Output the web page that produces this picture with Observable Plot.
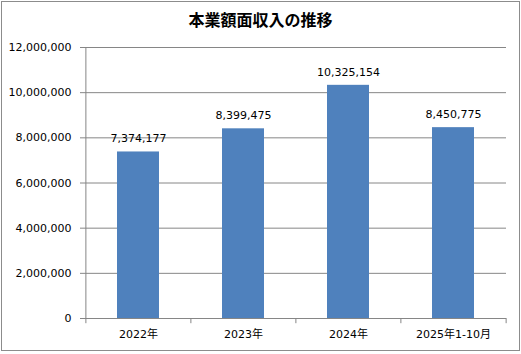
<!DOCTYPE html>
<html><head><meta charset="utf-8">
<script src="https://cdn.jsdelivr.net/npm/d3@7"></script>
<script src="https://cdn.jsdelivr.net/npm/@observablehq/plot@0.6"></script>
<style>
html,body{margin:0;padding:0;background:#fff;}
#wrap{position:relative;width:521px;height:354px;overflow:hidden;}
#border{position:absolute;left:1px;top:1px;width:517px;height:348px;border:1px solid #8c8c8c;pointer-events:none;}
#title{position:absolute;left:0;top:8px;width:521px;text-align:center;font:bold 16px "Noto Sans CJK JP",sans-serif;color:#000;line-height:22px;}
svg{position:absolute;left:0;top:0;}
</style></head>
<body><div id="wrap"><div id="title">本業額面収入の推移</div><div id="border"></div></div>
<script>
const categories = ["2022年", "2023年", "2024年", "2025年1-10月"];
const values = [7374177, 8399475, 10325154, 8450775];
const yTicks = [0, 2000000, 4000000, 6000000, 8000000, 10000000, 12000000];

const data = categories.map((c, i) => ({cat: c, val: values[i]}));
const W = 521, H = 354, mL = 85, mR = 15, mT = 47, mB = 36;
const halfStep = (W - mL - mR) / categories.length / 2;
const fmt = d3.format(",");
const gray = "#868686";

const chart = Plot.plot({
  width: W, height: H,
  marginLeft: mL, marginRight: mR, marginTop: mT, marginBottom: mB,
  style: {fontFamily: "'DejaVu Sans', 'Noto Sans CJK JP', sans-serif", fontSize: "11px", color: "#000", background: "transparent"},
  x: {domain: categories, paddingInner: 0.6, paddingOuter: 0.3, label: null},
  y: {domain: [0, 12000000], label: null},
  marks: [
    Plot.gridY(yTicks, {stroke: gray, strokeOpacity: 1}),
    Plot.barY(data, {x: "cat", y: "val", fill: "#4F81BD"}),
    Plot.ruleY([0], {stroke: gray}),
    Plot.ruleX([categories[0]], {x: d => d, y1: 0, y2: 12000000, dx: -halfStep, stroke: gray}),
    Plot.ruleX(categories, {x: d => d, y1: 0, y2: -230000, dx: -halfStep, stroke: gray}),
    Plot.ruleX([categories[categories.length - 1]], {x: d => d, y1: 0, y2: -230000, dx: halfStep, stroke: gray}),
    Plot.axisY({ticks: yTicks, tickFormat: fmt, tickSize: 5, tickPadding: 9, stroke: gray, label: null, fill: "#000"}),
    Plot.axisX({tickSize: 0, tickPadding: 12, label: null, fill: "#000"}),
    Plot.text(data, {x: "cat", y: "val", text: d => fmt(d.val), dy: -13, fill: "#000"})
  ]
});
document.getElementById("wrap").prepend(chart);
</script>
</body></html>
